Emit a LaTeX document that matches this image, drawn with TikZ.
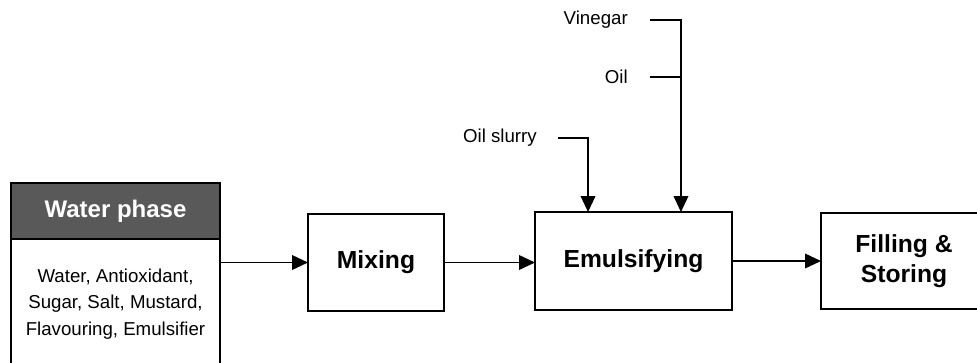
\documentclass[tikz,border=0pt]{standalone}
\usepackage{fontspec}
\setmainfont{Liberation Sans}
\usetikzlibrary{arrows.meta,calc}
\definecolor{hdrgray}{HTML}{595959}
\begin{document}
\begin{tikzpicture}[x=0.75pt,y=-0.75pt,
  box/.style={draw, line width=1.4pt, fill=white, outer sep=0pt, inner sep=0pt, align=center,
    font=\bfseries\fontsize{18.5}{22.5}\selectfont},
  lbl/.style={font=\fontsize{14}{20}\selectfont, inner sep=0pt},
  arr/.style={line width=1.2pt, -{Triangle[length=12pt,width=11pt]}},
  feed/.style={line width=1.2pt}]
\useasboundingbox (0,0) rectangle (977,362);
\node[box, minimum width=156.75pt, minimum height=42pt, fill=hdrgray, text=white,
  font=\bfseries\fontsize{18}{21}\selectfont] (hdr) at (115.5,211) {Water phase};
\node[box, font=\fontsize{14}{20}\selectfont, anchor=north, minimum width=156.75pt,
  minimum height=97.5pt] (body) at (hdr.south) {Water, Antioxidant,\\Sugar, Salt, Mustard,\\Flavouring, Emulsifier};
\node[box, minimum width=102pt, minimum height=72.75pt] (mix) at (376,262.5) {Mixing};
\node[box, minimum width=147.75pt, minimum height=73.5pt] (emul) at (633.5,261) {Emulsifying};
\node[box, minimum width=124.5pt, minimum height=72pt] (fill) at (904,261) {Filling \&\\Storing};
\draw[arr] (body.east |- mix.west) -- (mix.west);
\draw[arr] (mix.east) -- (mix.east -| emul.west);
\draw[arr] (emul.east) -- (emul.east -| fill.west);
\node[lbl, anchor=east] (vin) at (628,20) {Vinegar};
\node[lbl, anchor=east] (oil) at (628,77) {Oil};
\node[lbl, anchor=east] (slurry) at (537,138) {Oil slurry};
\draw[arr] ([xshift=16.5pt]vin.east) -| ([xshift=35.6pt]emul.north);
\draw[feed] ([xshift=16.5pt]oil.east) -- ++(31,0);
\draw[arr] ([xshift=15.75pt]slurry.east) -| ([xshift=-34.1pt]emul.north);
\end{tikzpicture}
\end{document}
